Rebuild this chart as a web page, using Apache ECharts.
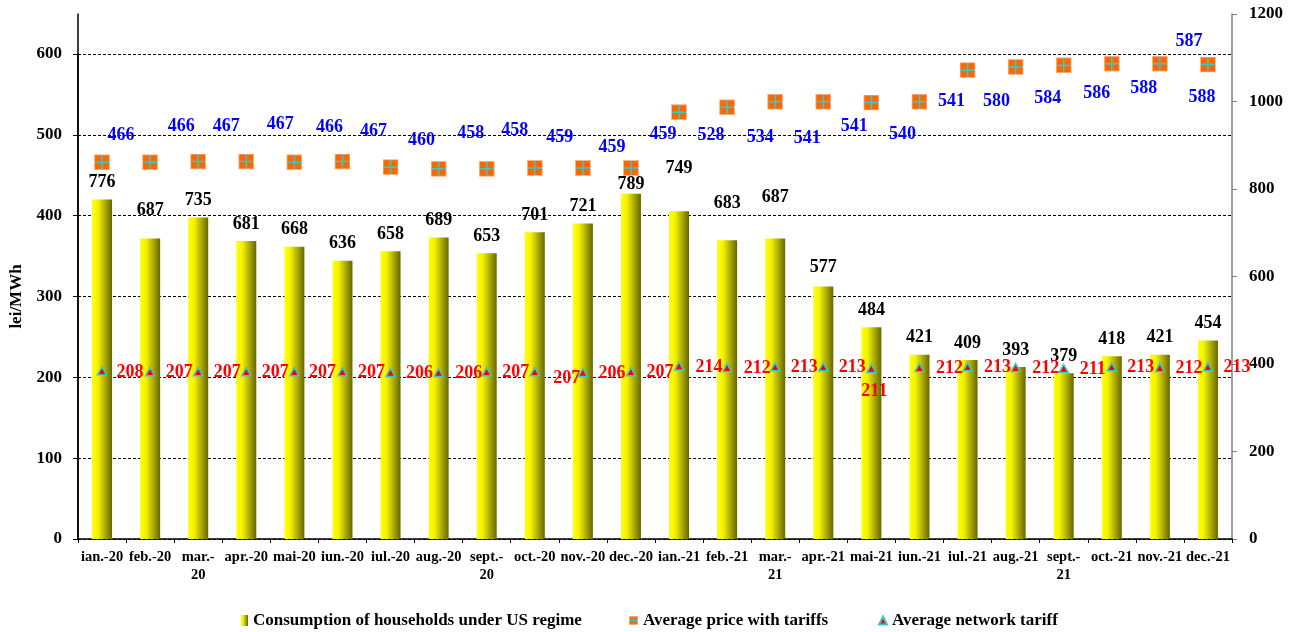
<!DOCTYPE html>
<html>
<head>
<meta charset="utf-8">
<script src="https://cdn.jsdelivr.net/npm/echarts@6/dist/echarts.min.js"></script>
<style>
html,body{margin:0;padding:0;background:#fff;}
#chart{width:1300px;height:632px;}
</style>
</head>
<body>
<div id="chart"></div>
<script>
// ---- data ----
const categories = ['ian.-20','feb.-20','mar.-\n20','apr.-20','mai-20','iun.-20','iul.-20','aug.-20','sept.-\n20','oct.-20','nov.-20','dec.-20',
  'ian.-21','feb.-21','mar.-\n21','apr.-21','mai-21','iun.-21','iul.-21','aug.-21','sept.-\n21','oct.-21','nov.-21','dec.-21'];
const consumption = [776,687,735,681,668,636,658,689,653,701,721,789,749,683,687,577,484,421,409,393,379,418,421,454];
const avgPrice = [466,466,467,467,466,467,460,458,458,459,459,459,528,534,541,541,540,541,580,584,586,588,588,587];
const networkTariff = [208,207,207,207,207,207,206,206,207,207,206,207,214,212,213,213,211,212,213,212,211,213,212,213];
const leftTicks = {min:0, max:600, interval:100};
const rightTicks = {min:0, max:1200, interval:200};
const seriesNames = ['Consumption of households under US regime','Average price with tariffs','Average network tariff'];

// ---- label placement (style, not data) ----
const barLabelDy = [0,-11,0,0,0,0,0,0,0,0,0,8,-26,-20,-24,-2,0,0,0,0,0,0,0,0];
const priceLabelOffset = [[19,-27],[31,-36],[28,-35],[34,-37],[35,-35],[31,-30],[31,-27],[32,-35],[28,-38],[25,-31],[29,-21],[32,-34],
  [32,23],[33,30],[32,37],[31,25],[31,32],[32,0],[29,31],[32,31],[33,28],[32,25],[42,34],[-19,-23]];
const tariffLabelOffset = [[28,1],[29,1],[29,1],[29,1],[28,1],[29,1],[29,1],[30,1],[29,1],[32,7],[29,1],[29,1],
  [30,1],[30,1],[29,1],[29,1],[3,23],[30,1],[30,1],[30,1],[29,1],[29,1],[29,1],[29,1]];

const FONT = '"Liberation Serif", "Times New Roman", serif';
const squareSvg = "<svg xmlns='http://www.w3.org/2000/svg' width='16' height='16'><rect x='0.5' y='0.5' width='15' height='15' fill='#FF6600' stroke='#FFB88A' stroke-width='1'/><rect x='7.2' y='1' width='1.6' height='14' fill='#33CCCC'/><rect x='1' y='7.2' width='14' height='1.6' fill='#33CCCC'/></svg>";
const squareSymbol = 'image://data:image/svg+xml;charset=utf-8,' + encodeURIComponent(squareSvg);

const barGradient = new echarts.graphic.LinearGradient(0,0,1,0,[
  {offset:0, color:'#ffff10'},{offset:0.3, color:'#f2f200'},{offset:1, color:'#666600'}]);

const chart = echarts.init(document.getElementById('chart'), null, {renderer:'canvas'});

const labelFont = {fontFamily:FONT, fontWeight:'bold', fontSize:18};
const legendText = {color:'#000', fontFamily:FONT, fontWeight:'bold', fontSize:17};

chart.setOption({
  animation:false,
  backgroundColor:'#ffffff',
  grid:[
    {left:78, right:68, top:54, bottom:93},
    {left:78, right:68, top:14, bottom:93}
  ],
  xAxis:[
    {gridIndex:0, type:'category', data:categories, show:false},
    {gridIndex:1, type:'category', data:categories,
      axisLine:{show:true, lineStyle:{color:'#000', width:1.5}},
      axisTick:{show:true, length:4, lineStyle:{color:'#000', width:1}},
      axisLabel:{color:'#000', fontFamily:FONT, fontWeight:'bold', fontSize:14.5, margin:9, lineHeight:18, interval:0}
    }
  ],
  yAxis:[
    {gridIndex:0, type:'value', position:'left', min:leftTicks.min, max:leftTicks.max, interval:leftTicks.interval,
      name:'lei/MWh', nameLocation:'middle', nameGap:52, nameRotate:90,
      nameTextStyle:{color:'#000', fontFamily:FONT, fontWeight:'bold', fontSize:17},
      axisLine:{show:true, lineStyle:{color:'#000', width:1.5}},
      axisTick:{show:true, length:5, lineStyle:{color:'#000'}},
      axisLabel:{color:'#000', fontFamily:FONT, fontWeight:'bold', fontSize:17, margin:16},
      splitLine:{show:true, lineStyle:{color:'#000', width:1, type:[3,2]}}
    },
    {gridIndex:1, type:'value', position:'right', min:rightTicks.min, max:rightTicks.max, interval:rightTicks.interval,
      axisLine:{show:true, lineStyle:{color:'#808080', width:1.5}},
      axisTick:{show:true, length:5, lineStyle:{color:'#808080'}},
      axisLabel:{color:'#000', fontFamily:FONT, fontWeight:'bold', fontSize:17, margin:17, formatter:(v)=>String(v)},
      splitLine:{show:false}
    },
    {gridIndex:1, type:'value', position:'left', min:rightTicks.min, max:rightTicks.max,
      axisLine:{show:true, lineStyle:{color:'#000', width:1.5}},
      axisTick:{show:false}, axisLabel:{show:false}, splitLine:{show:false}
    }
  ],
  legend:[
    {data:[{name:seriesNames[0], icon:'rect'}], left:241, top:612, padding:0, itemWidth:7, itemHeight:11, selectedMode:false, textStyle:legendText},
    {data:[{name:seriesNames[1], icon:squareSymbol}], left:629, top:612, padding:0, itemWidth:9, itemHeight:9, selectedMode:false, textStyle:legendText},
    {data:[{name:seriesNames[2], icon:'triangle'}], left:878, top:612, padding:0, itemWidth:8, itemHeight:8, selectedMode:false, textStyle:legendText}
  ],
  series:[
    {name:seriesNames[0], type:'bar', xAxisIndex:1, yAxisIndex:1, barWidth:20, z:2,
      itemStyle:{color:barGradient},
      data: consumption.map((v,i)=>({value:v, label:{offset:[0, barLabelDy[i]]}})),
      label:{show:true, position:'top', distance:8, color:'#000', ...labelFont}
    },
    {name:seriesNames[1], type:'scatter', xAxisIndex:0, yAxisIndex:0, z:4,
      symbol:squareSymbol, symbolSize:16,
      itemStyle:{color:'#FF6600', opacity:1},
      data: avgPrice.map((v,i)=>({value:v, label:{offset:priceLabelOffset[i]}})),
      label:{show:true, position:'inside', align:'center', verticalAlign:'middle', color:'#0000FF', opacity:1, ...labelFont}
    },
    {name:seriesNames[2], type:'scatter', xAxisIndex:0, yAxisIndex:0, z:5,
      symbol:'triangle', symbolSize:[9,8],
      itemStyle:{color:'#FF0000', borderColor:'#33CCCC', borderWidth:1.5, opacity:1},
      data: networkTariff.map((v,i)=>({value:v, label:{offset:tariffLabelOffset[i]}})),
      label:{show:true, position:'inside', align:'center', verticalAlign:'middle', color:'#FF0000', opacity:1, ...labelFont}
    }
  ]
});
</script>
</body>
</html>
